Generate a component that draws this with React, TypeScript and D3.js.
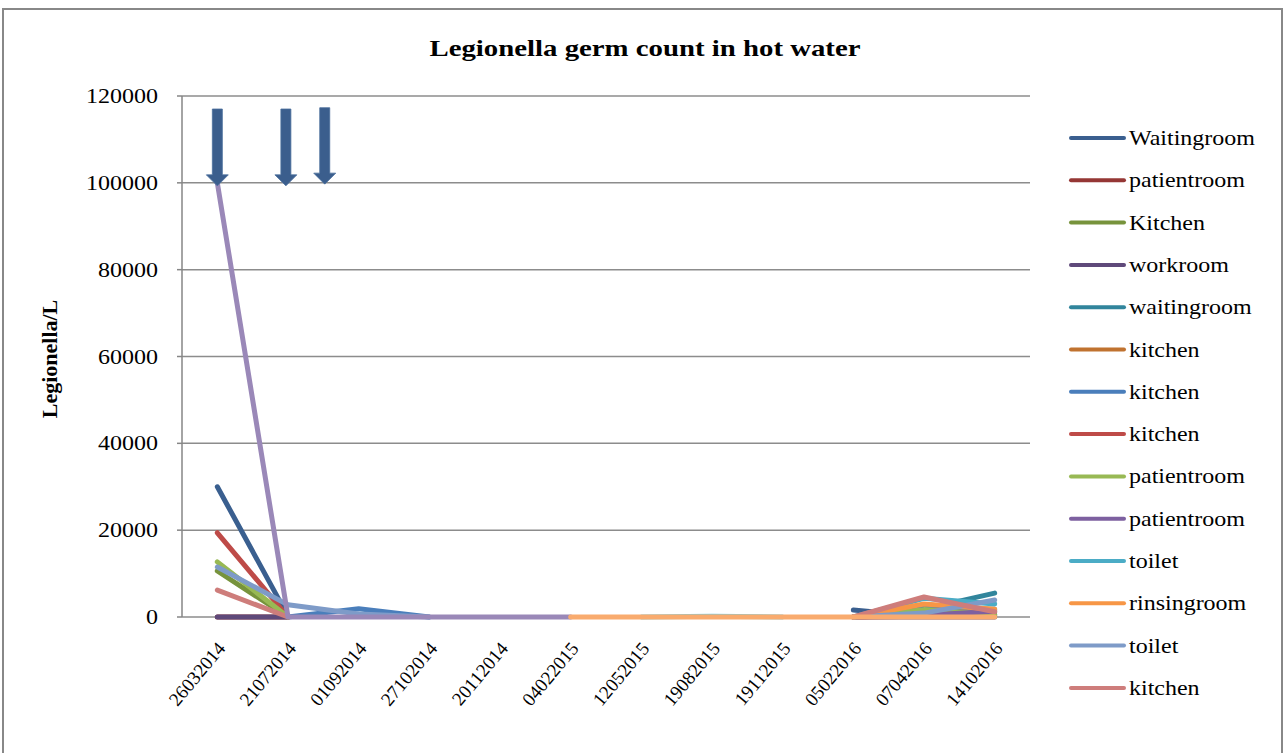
import React from "react";
import * as d3 from "d3";

const categories = ["26032014","21072014","01092014","27102014","20112014","04022015","12052015","19082015","19112015","05022016","07042016","14102016"];

type V = number | null;
const _ = null;
const sWaitingroom: V[] = [30000, 200, _, _, _, _, _, _, _, 1600, 100, 600];
const sPatientroom1: V[] = [0, 0, _, _, _, _, _, _, _, 0, 200, 300];
const sKitchen1: V[] = [10600, 0, _, _, _, _, _, _, _, 0, 1200, 400];
const sWorkroom: V[] = [0, 0, _, _, _, _, _, _, _, 0, 0, 0];
const sWaitingroom2: V[] = [_, _, _, _, _, _, _, _, _, 0, 1800, 5500];
const sKitchen2: V[] = [_, _, _, _, _, _, _, _, _, 0, 2500, 1500];
const sKitchen3: V[] = [_, 0, 1900, 0, _, _, _, _, _, 0, 2200, 1800];
const sKitchen4: V[] = [19400, 0, _, _, _, _, _, _, _, 0, 500, 1000];
const sPatientroom2: V[] = [12700, 0, _, _, _, _, _, _, _, 0, 1700, 600];
const sPatientroom3: V[] = [_, _, _, _, _, _, _, _, _, 0, 400, 1300];
const sToilet1: V[] = [_, _, _, _, _, _, _, _, _, 0, 4300, 3000];
const sRinsingroom: V[] = [_, _, _, _, _, _, _, _, _, 0, 3000, 1800];
const sToilet2: V[] = [11500, 2800, 700, 0, _, _, _, _, _, 0, 900, 3900];
const sKitchen5: V[] = [6200, 0, _, _, _, _, _, _, _, 0, 4600, 1200];
const sExtra1: V[] = [100000, 0, 0, 0, 0, 0, _, _, _, _, _, _];
const sExtra2: V[] = [_, _, _, _, _, _, 0, 150, 0, _, _, _];
const sExtra3: V[] = [_, _, _, _, _, 0, 0, 0, 0, 0, 0, 0];

const seriesNames = ["Waitingroom","patientroom","Kitchen","workroom","waitingroom","kitchen","kitchen","kitchen","patientroom","patientroom","toilet","rinsingroom","toilet","kitchen"];
const seriesValues = [sWaitingroom,sPatientroom1,sKitchen1,sWorkroom,sWaitingroom2,sKitchen2,sKitchen3,sKitchen4,sPatientroom2,sPatientroom3,sToilet1,sRinsingroom,sToilet2,sKitchen5,sExtra1,sExtra2,sExtra3];
const seriesColors = ["#3A5F8F","#953735","#77933C","#5F497A","#31859C","#C0722F","#4A7EBB","#BE4B48","#98B954","#7D60A0","#4BACC6","#F79646","#7E9BC8","#CE7D7B","#9A88B8","#7ECAD8","#F9AB6E"];

const yTicks = [0, 20000, 40000, 60000, 80000, 100000, 120000];
// arrows: fractional category index, top value, tip value
const arrows = [
  { pos: 0, top: 117000, tip: 99300 },
  { pos: 0.97, top: 117000, tip: 99300 },
  { pos: 1.52, top: 117300, tip: 99700 },
];

const FONT = "'Liberation Serif', 'Times New Roman', serif";
const SX = 1.2;

function SText({ x, y, anchor = "start", size, bold = false, children }: any) {
  return (
    <g transform={`translate(${x},${y}) scale(${SX},1)`}>
      <text x={0} y={0} textAnchor={anchor} fontFamily={FONT} fontSize={size} fontWeight={bold ? "bold" : "normal"} fill="#000">{children}</text>
    </g>
  );
}

export default function App() {
  const W = 1284, H = 753;
  const left = 182, right = 1030, top = 96, bottom = 617;
  const x = d3.scaleBand().domain(categories).range([left, right]);
  const bw = x.bandwidth();
  const cx = (i: number) => left + bw * (i + 0.5);
  const y = d3.scaleLinear().domain([0, 120000]).range([bottom, top]);
  const line = d3.line<V>()
    .defined((d) => d !== null)
    .x((_d, i) => (x(categories[i]) as number) + bw / 2)
    .y((d) => y(d as number));

  const legendX = 1071, legendY0 = 138, legendStep = 42.3;

  return (
    <svg width={W} height={H} style={{ position: "absolute", left: 0, top: 0, background: "#fff" }}>
      <rect x={3} y={9} width={1279} height={780} fill="#fff" stroke="#888" strokeWidth={2} />
      <SText x={645} y={56} anchor="middle" size={24} bold>Legionella germ count in hot water</SText>
      {/* gridlines */}
      {yTicks.map((t) => (
        <line key={t} x1={left} x2={right} y1={y(t)} y2={y(t)} stroke="#8C8C8C" strokeWidth={1.5} />
      ))}
      {/* y axis */}
      <line x1={left} x2={left} y1={top} y2={bottom} stroke="#868686" strokeWidth={1.5} />
      {yTicks.map((t) => (
        <line key={"tk" + t} x1={left - 5} x2={left} y1={y(t)} y2={y(t)} stroke="#868686" strokeWidth={1.5} />
      ))}
      {yTicks.map((t) => (
        <SText key={"yl" + t} x={158} y={y(t) + 7} anchor="end" size={20}>{String(t)}</SText>
      ))}
      <text transform={`translate(57,359) rotate(-90)`} textAnchor="middle" fontFamily={FONT} fontWeight="bold" fontSize={22}>Legionella/L</text>
      {/* x labels */}
      {categories.map((c, i) => (
        <text key={c} transform={`translate(${cx(i) + 9},${649}) rotate(-50)`} textAnchor="end" fontFamily={FONT} fontSize={19}>{c}</text>
      ))}
      {/* series */}
      {seriesValues.map((vals, si) => (
        <path key={si} d={line(vals) || ""} fill="none" stroke={seriesColors[si]} strokeWidth={5} strokeLinecap="round" strokeLinejoin="round" />
      ))}
      {/* arrows */}
      {arrows.map((a, i) => {
        const ax = cx(a.pos);
        const yt = y(a.top), yp = y(a.tip);
        const hh = 11, sw = 5, hw = 11;
        const d = `M${ax - sw},${yt} L${ax + sw},${yt} L${ax + sw},${yp - hh} L${ax + hw},${yp - hh} L${ax},${yp} L${ax - hw},${yp - hh} L${ax - sw},${yp - hh} Z`;
        return <path key={"ar" + i} d={d} fill="#3B5E8D" stroke="#4A6E9C" strokeWidth={0.8} />;
      })}
      {/* legend */}
      {seriesNames.map((n, i) => {
        const ly = legendY0 + i * legendStep;
        return (
          <g key={"lg" + i}>
            <line x1={legendX} x2={legendX + 53} y1={ly} y2={ly} stroke={seriesColors[i]} strokeWidth={4} strokeLinecap="round" />
            <SText x={legendX + 58} y={ly + 7} size={20}>{n}</SText>
          </g>
        );
      })}
    </svg>
  );
}
